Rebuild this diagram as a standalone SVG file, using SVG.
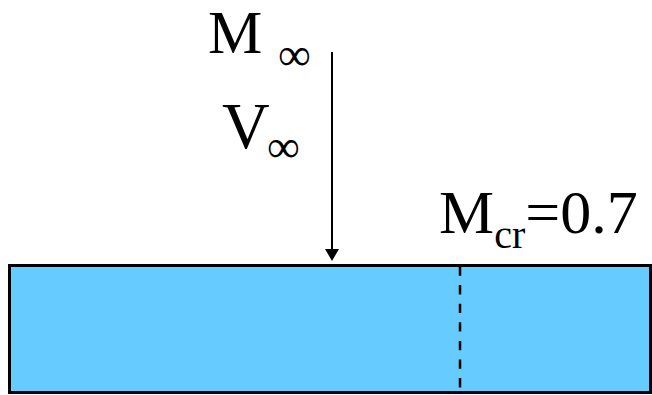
<svg xmlns="http://www.w3.org/2000/svg" width="652" height="395" viewBox="0 0 652 395">
<style>
.t{font-family:"Liberation Serif","Times New Roman",serif;fill:#000}
</style>
<rect width="652" height="395" fill="#fff"/>
<g id="body">
<rect x="9.5" y="265.5" width="641" height="127" fill="#66CCFF" stroke="#000" stroke-width="3"/>
<line x1="460" y1="266.5" x2="460" y2="391" stroke="#000" stroke-width="2.5" stroke-dasharray="9.3 9.3"/>
</g>
<g id="connectors">
<line x1="332" y1="52" x2="332" y2="250" stroke="#000" stroke-width="2"/>
<path d="M325,249 L339,249 L332,261 Z" fill="#000"/>
</g>
<g id="labels">
<text class="t" x="208" y="53" font-size="61">M</text>
<text class="t" x="278" y="70" font-size="46">∞</text>
<text class="t" x="222" y="148" font-size="66">V</text>
<text class="t" x="267" y="162" font-size="46">∞</text>
<text class="t" x="439" y="233" font-size="62">M<tspan font-size="40" dy="15">cr</tspan><tspan dy="-15">=0.7</tspan></text>
</g>
</svg>
